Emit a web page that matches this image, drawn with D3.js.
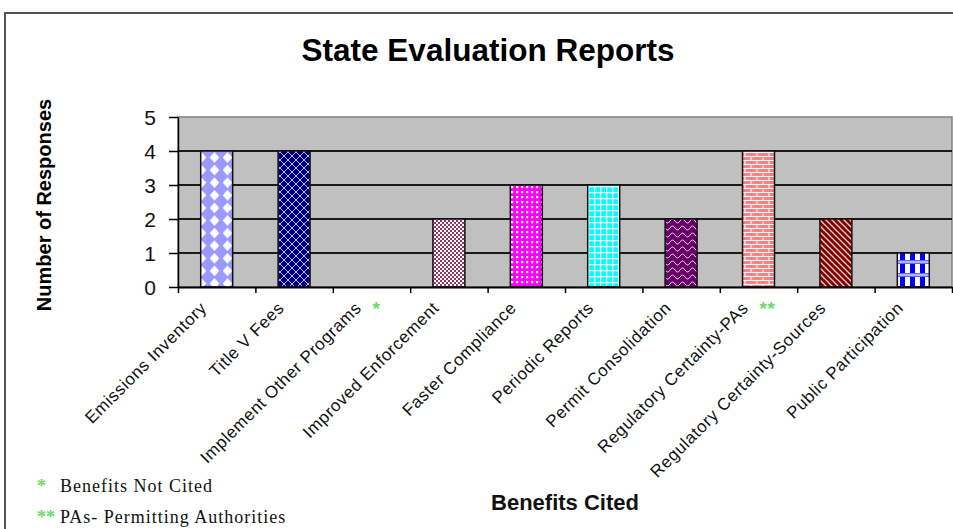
<!DOCTYPE html>
<html>
<head>
<meta charset="utf-8">
<script src="https://cdn.jsdelivr.net/npm/d3@7"></script>
<style>
  html, body { margin: 0; padding: 0; background: #fff; }
  svg { display: block; }
</style>
</head>
<body>
<svg id="chart" width="953" height="529"></svg>
<script>
// ---- data ----
const categories = [
  "Emissions Inventory", "Title V Fees", "Implement Other Programs",
  "Improved Enforcement", "Faster Compliance", "Periodic Reports",
  "Permit Consolidation", "Regulatory Certainty-PAs",
  "Regulatory Certainty-Sources", "Public Participation"
];
const values = [4, 4, 0, 2, 3, 3, 2, 4, 2, 1];
const yTicks = [0, 1, 2, 3, 4, 5];
const labelMarks = ["", "", "*", "", "", "", "", "**", "", ""];
const footnotes = [["*", "Benefits Not Cited"], ["**", "PAs- Permitting Authorities"]];
const title = "State Evaluation Reports";
const xTitle = "Benefits Cited";
const yTitle = "Number of Responses";

// ---- styles ----
const patternIds = ["pDiamond", "pCross", "pNone", "pChecker", "pDots", "pGrid", "pWave", "pBrick", "pDiag", "pPlaid"];

const svg = d3.select("#chart");
const defs = svg.append("defs");

function pat(id, w, h, bg) {
  const p = defs.append("pattern").attr("id", id).attr("patternUnits", "userSpaceOnUse")
    .attr("width", w).attr("height", h);
  p.append("rect").attr("width", w).attr("height", h).attr("fill", bg);
  return p;
}
// diamonds
let p = pat("pDiamond", 13, 12.6, "#9999ff");
p.append("polygon").attr("points", "6.5,1 11.3,6.3 6.5,11.6 1.7,6.3").attr("fill", "#fff");
// navy crosshatch
p = pat("pCross", 8, 8, "#000080");
p.append("path").attr("d", "M0,0L8,8M8,0L0,8").attr("stroke", "#ccccff").attr("stroke-width", 0.9);
// maroon checker
p = pat("pChecker", 4, 4, "#ffffff");
p.append("rect").attr("x", 0).attr("y", 0).attr("width", 2).attr("height", 2).attr("fill", "#993366");
p.append("rect").attr("x", 2).attr("y", 2).attr("width", 2).attr("height", 2).attr("fill", "#993366");
// magenta dots
p = pat("pDots", 5, 5, "#ff00ff");
p.append("rect").attr("x", 1).attr("y", 1).attr("width", 2.2).attr("height", 2.2).attr("fill", "#fff");
// cyan grid
p = pat("pGrid", 6, 6, "#00ffff");
p.append("path").attr("d", "M0,0.6H6M0.6,0V6").attr("stroke", "#fff").attr("stroke-width", 1.2);
// purple wave
p = pat("pWave", 10, 7, "#660066");
p.append("path").attr("d", "M0,4 Q2.5,0 5,4 T10,4").attr("fill", "none").attr("stroke", "#ffccff").attr("stroke-width", 1);
// salmon brick
p = pat("pBrick", 12, 8, "#ff8080");
p.append("path").attr("d", "M0,0.5H12M0,4.5H12M1,0V4M7,4V8").attr("stroke", "#fff").attr("stroke-width", 1.1);
// dark red diagonal
p = pat("pDiag", 6, 6, "#800000");
p.append("path").attr("d", "M-1,-1L7,7M-1,5L1,7M5,-1L7,1").attr("stroke", "#ffcccc").attr("stroke-width", 1.3);
// blue plaid
p = pat("pPlaid", 10, 13, "#ffffff");
p.append("rect").attr("x", 0).attr("y", 4).attr("width", 5).attr("height", 9).attr("fill", "#0000ff");
p.append("rect").attr("x", 0).attr("y", 0).attr("width", 10).attr("height", 4).attr("fill", "#6666ff");
p.append("rect").attr("x", 0).attr("y", 1.5).attr("width", 10).attr("height", 1).attr("fill", "#ffffff");

// ---- layout ----
const plot = { left: 178, right: 952, top: 117, bottom: 287 };
const x = d3.scaleBand().domain(categories).range([plot.left, plot.right])
  .paddingInner(0.587).paddingOuter(0.587 / 2);
const xEdge = d3.scaleLinear().domain([0, categories.length]).range([plot.left, plot.right]);
const y = d3.scaleLinear().domain([0, 5]).range([plot.bottom, plot.top]);

// outer frame
svg.append("path").attr("d", "M5,529V13H953").attr("fill", "none").attr("stroke", "#555").attr("stroke-width", 2);

// title
svg.append("text").attr("x", 488).attr("y", 61).attr("text-anchor", "middle")
  .attr("font-family", "Liberation Sans, Arial, sans-serif").attr("font-weight", "bold")
  .attr("font-size", 31.5).attr("fill", "#000").text(title);

// plot background
svg.append("rect").attr("x", plot.left).attr("y", plot.top)
  .attr("width", plot.right - plot.left).attr("height", plot.bottom - plot.top)
  .attr("fill", "#c0c0c0").attr("stroke", "#808080").attr("stroke-width", 1.5);

// gridlines
svg.append("g").selectAll("line").data(yTicks.filter(d => d > 0 && d < 5)).join("line")
  .attr("x1", plot.left).attr("x2", plot.right)
  .attr("y1", d => y(d)).attr("y2", d => y(d))
  .attr("stroke", "#1a1a1a").attr("stroke-width", 2);

// bars
svg.append("g").selectAll("rect").data(categories.map((c, i) => ({ c, v: values[i], i })).filter(d => d.v > 0))
  .join("rect")
  .attr("x", d => x(d.c)).attr("width", x.bandwidth())
  .attr("y", d => y(d.v)).attr("height", d => y(0) - y(d.v))
  .attr("fill", d => `url(#${patternIds[d.i]})`)
  .attr("stroke", "#111").attr("stroke-width", 1.5);

// y axis
const yAxis = svg.append("g").attr("transform", `translate(${plot.left},0)`)
  .call(d3.axisLeft(y).tickValues(yTicks).tickFormat(d3.format("d")).tickSize(9).tickSizeOuter(0).tickPadding(13));
yAxis.select(".domain").attr("stroke", "#000").attr("stroke-width", 1.5);
yAxis.selectAll(".tick line").attr("stroke", "#000").attr("stroke-width", 1.5);
yAxis.selectAll(".tick text").attr("font-family", "Liberation Sans, Arial, sans-serif")
  .attr("font-size", 21).attr("fill", "#111").attr("dy", "0.36em");

// x axis (ticks on category boundaries)
const xAxis = svg.append("g").attr("transform", `translate(0,${plot.bottom})`)
  .call(d3.axisBottom(xEdge).tickValues(d3.range(categories.length + 1)).tickSize(6).tickSizeOuter(0).tickFormat(""));
xAxis.select(".domain").attr("stroke", "#000").attr("stroke-width", 2);
xAxis.selectAll(".tick line").attr("stroke", "#000").attr("stroke-width", 1.5);

// x labels
svg.append("g").selectAll("text").data(categories).join("text")
  .attr("transform", d => `translate(${x(d) + x.bandwidth() / 2 - 9},${plot.bottom + 22}) rotate(-45)`)
  .attr("text-anchor", "end")
  .attr("font-family", "Liberation Sans, Arial, sans-serif").attr("font-size", 17)
  .attr("letter-spacing", 0.6).attr("fill", "#111")
  .text(d => d);

// green marks after labels
svg.append("g").selectAll("text").data(categories.map((c, i) => ({ c, m: labelMarks[i] })).filter(d => d.m))
  .join("text")
  .attr("x", (d, i) => x(d.c) + x.bandwidth() / 2 + 1)
  .attr("y", (d, i) => plot.bottom + 28)
  .attr("font-family", "Liberation Sans, Arial, sans-serif").attr("font-size", 19).attr("font-weight", "bold")
  .attr("fill", "#66dd66").attr("letter-spacing", 0.5).text(d => d.m);

// axis titles
svg.append("text").attr("x", 565).attr("y", 510).attr("text-anchor", "middle")
  .attr("font-family", "Liberation Sans, Arial, sans-serif").attr("font-weight", "bold")
  .attr("font-size", 22).attr("fill", "#111").text(xTitle);
svg.append("text").attr("transform", "translate(51,205) rotate(-90)").attr("text-anchor", "middle")
  .attr("font-family", "Liberation Sans, Arial, sans-serif").attr("font-weight", "bold")
  .attr("font-size", 20).attr("fill", "#000").text(yTitle);

// footnotes
const fn = svg.append("g").selectAll("g").data(footnotes).join("g")
  .attr("transform", (d, i) => `translate(0,${492 + i * 31})`);
fn.append("text").attr("x", 37).attr("y", 0)
  .attr("font-family", "Liberation Serif, Times New Roman, serif").attr("font-size", 18).attr("font-weight", "bold")
  .attr("fill", "#66dd66").text(d => d[0]);
fn.append("text").attr("x", 60).attr("y", 0)
  .attr("font-family", "Liberation Serif, Times New Roman, serif").attr("font-size", 18)
  .attr("letter-spacing", 1).attr("fill", "#111").text(d => d[1]);
</script>
</body>
</html>
